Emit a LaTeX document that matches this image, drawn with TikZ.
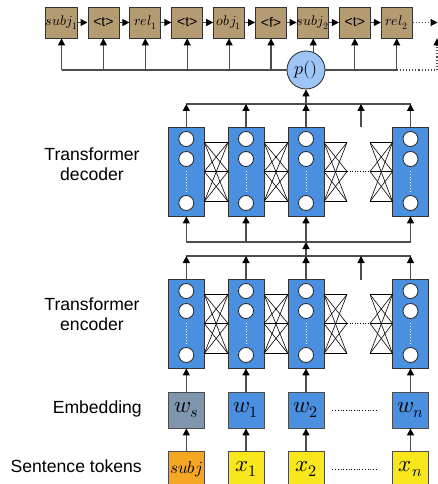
\documentclass[tikz,border=0pt]{standalone}
\usepackage{fontspec}
\usepackage{unicode-math}
\setmathfont{Latin Modern Math}
\setsansfont{Liberation Sans}
\usetikzlibrary{arrows.meta,calc}
\definecolor{blk}{HTML}{4A8FE0}
\definecolor{tanc}{HTML}{B49B72}
\definecolor{gryc}{HTML}{7F96AE}
\definecolor{orgc}{HTML}{F5A623}
\definecolor{yelc}{HTML}{F8E71C}
\definecolor{pblue}{HTML}{9DC6F7}
\definecolor{lnc}{HTML}{4D4D4D}
\newcommand\mklayer[3]{%
  \node[layerbox] (#1) at (#2,#3+44.5) {};
  \node[neur] (#1a) at (#2,#3+12) {};
  \node[neur] (#1b) at (#2,#3+32) {};
  \node[neur] (#1c) at (#2,#3+76) {};
  \draw[white,dotted,line width=0.8pt] ($(#1b.south)+(0,4)$) -- ($(#1c.north)+(0,-4)$);
}
\newcommand\mkcross[3]{%
  \foreach \a in {15.5,44.5,74.5}{\foreach \b in {15.5,44.5,74.5}{\draw[xline] (#1,#3+\a) -- (#2,#3+\b);}}%
}
\begin{document}
\begin{tikzpicture}[x=1pt,y=-1pt,
  conn/.style={draw=lnc,line width=1.1pt,-{Triangle[width=7pt,length=7pt,color=black]}},
  dconn/.style={conn,dotted},
  plain/.style={draw=lnc,line width=1.1pt},
  xline/.style={draw=black,line width=0.6pt},
  layerbox/.style={draw=black!80,line width=0.8pt,fill=blk,minimum width=36pt,minimum height=89pt,inner sep=0pt},
  neur/.style={circle,draw=black!85,line width=0.8pt,fill=white,minimum size=15pt,inner sep=0pt},
  seqbox/.style={draw=black!80,line width=0.8pt,fill=tanc,minimum width=31pt,minimum height=31pt,inner sep=0pt,font=\fontsize{14}{16}\selectfont},
  tagtxt/.style={font=\sffamily\fontsize{14}{16}\selectfont},
  embbox/.style={draw=black!70,line width=0.8pt,minimum width=36pt,minimum height=36pt,inner sep=0pt,font=\fontsize{23}{26}\selectfont},
  lbl/.style={font=\sffamily\fontsize{17.6}{20.5}\selectfont,inner sep=0pt},
]
\useasboundingbox (0,0) rectangle (438,484);

% ---- top output sequence
\node[seqbox] (s1) at (61.5,22.5) {$subj_1$};
\node[seqbox,tagtxt] (s2) at (103.4,22.5) {<t>};
\node[seqbox] (s3) at (145.3,22.5) {$rel_1$};
\node[seqbox,tagtxt] (s4) at (187.2,22.5) {<t>};
\node[seqbox] (s5) at (229.1,22.5) {$obj_1$};
\node[seqbox,tagtxt] (s6) at (271,22.5) {<f>};
\node[seqbox] (s7) at (312.9,22.5) {$subj_2$};
\node[seqbox,tagtxt] (s8) at (354.8,22.5) {<t>};
\node[seqbox] (s9) at (396.7,22.5) {$rel_2$};
\foreach \i/\j in {1/2,2/3,3/4,4/5,5/6,6/7,7/8,8/9}{\draw[conn] (s\i.east) -- (s\j.west);}
\coordinate (sEnd) at (437.5,22.5);
\draw[dconn] (s9.east) -- (sEnd);

% ---- p() node
\node[circle,draw=black!85,line width=0.8pt,fill=pblue,minimum size=38pt,inner sep=0pt,font=\fontsize{18}{20}\selectfont] (p) at (306,70) {$p()$};
\draw[plain] (p.west -| s1.south) -- (p.west);
\draw[plain] (p.east) -- (p.east -| s9.south);
\foreach \i in {1,...,6,8,9}{\draw[conn] (p.west -| s\i.south) -- (s\i.south);}
\draw[conn] (p.68) -- (p.68 |- s7.south);
\coordinate (pc) at (437,70);
\draw[plain,dotted] (p.east -| s9.south) -- (pc);
\draw[dconn] (pc) -- (pc |- s9.south);

% ---- decoder
\mklayer{d1}{186.3}{127}
\mklayer{d2}{246}{127}
\mklayer{d3}{306}{127}
\mklayer{d4}{410.5}{127}
\mkcross{204.3}{228}{127}
\mkcross{264}{288}{127}
\mkcross{324}{347}{127}
\mkcross{370}{392.5}{127}
\draw[xline,dotted] (347,171.5) -- (370,171.5);
\coordinate (dtl) at (186.3,104);
\draw[plain] (dtl) -- (dtl -| d4.north);
\foreach \i in {1,...,4}{\draw[conn] (d\i.north) -- (d\i.north |- dtl);}
\coordinate (dfree) at (361,127);
\draw[conn] (dfree) -- (dfree |- dtl);
\draw[conn] (d3.north |- dtl) -- (p.south);
\coordinate (dbl) at (186.3,242);
\draw[plain] (dbl) -- (dbl -| d4.south);
\foreach \i in {1,...,4}{\draw[conn] (d\i.south |- dbl) -- (d\i.south);}

% ---- encoder
\mklayer{n1}{186.3}{279}
\mklayer{n2}{246}{279}
\mklayer{n3}{306}{279}
\mklayer{n4}{410.5}{279}
\mkcross{204.3}{228}{279}
\mkcross{264}{288}{279}
\mkcross{324}{347}{279}
\mkcross{370}{392.5}{279}
\draw[xline,dotted] (347,323.5) -- (370,323.5);
\coordinate (etl) at (186.3,256);
\draw[plain] (etl) -- (etl -| n4.north);
\foreach \i in {1,...,4}{\draw[conn] (n\i.north) -- (n\i.north |- etl);}
\coordinate (efree) at (361,280);
\draw[conn] (efree) -- (efree |- etl);
\draw[conn] (n3.north |- etl) -- (d3.south |- dbl);

% ---- embeddings
\node[embbox,fill=gryc] (e1) at (186.3,410) {$w_s$};
\node[embbox,fill=blk] (e2) at (246,410) {$w_1$};
\node[embbox,fill=blk] (e3) at (306,410) {$w_2$};
\node[embbox,fill=blk] (e4) at (410.5,410) {$w_n$};
\foreach \i in {1,...,4}{\draw[conn] (e\i.north) -- (n\i.south);}
\draw[black,dotted,line width=0.7pt] ($(e3.east)+(8,0)$) -- ($(e4.west)+(-14,0)$);

% ---- tokens
\node[embbox,fill=orgc,font=\fontsize{17}{19}\selectfont] (t1) at (186.3,469) {$subj$};
\node[embbox,fill=yelc] (t2) at (246,469) {$x_1$};
\node[embbox,fill=yelc] (t3) at (306,469) {$x_2$};
\node[embbox,fill=yelc] (t4) at (410.5,469) {$x_n$};
\foreach \i in {1,...,4}{\draw[conn] (t\i.north) -- (e\i.south);}
\draw[black,dotted,line width=0.7pt] ($(t3.east)+(8,0)$) -- ($(t4.west)+(-14,0)$);

% ---- labels
\node[lbl,align=center] (ldec) at (92,164) {Transformer\\decoder};
\node[lbl,align=center] (lenc) at (92,314) {Transformer\\encoder};
\node[lbl,anchor=east] (lemb) at (142,409) {Embedding};
\node[lbl,anchor=east] (ltok) at (142,466) {Sentence tokens};
\end{tikzpicture}
\end{document}
